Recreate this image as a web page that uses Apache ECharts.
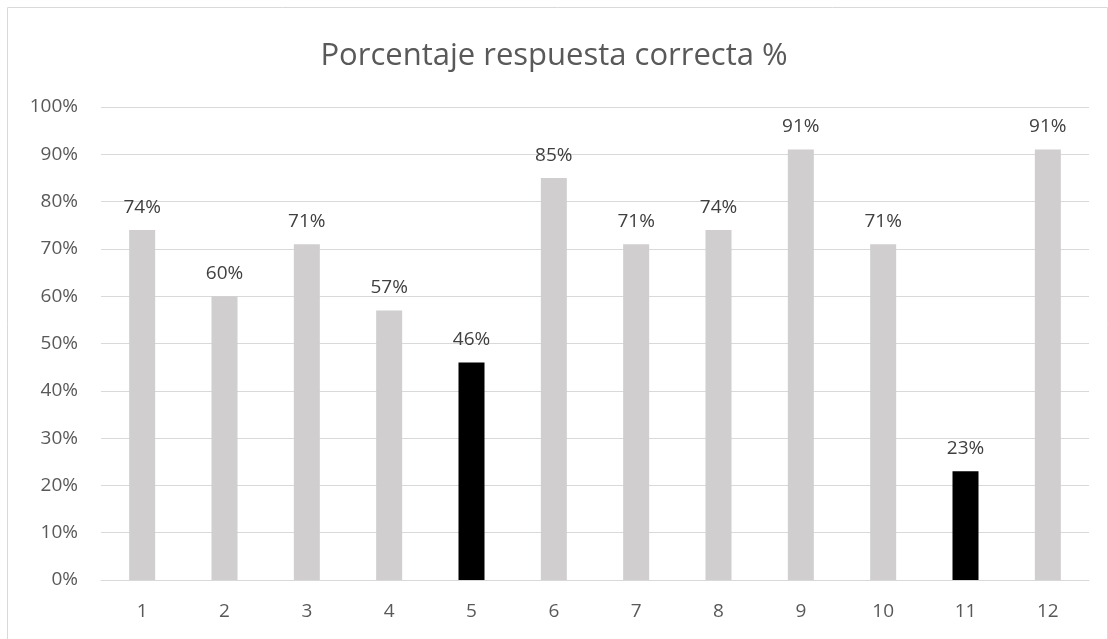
<!DOCTYPE html>
<html>
<head>
<meta charset="utf-8">
<script src="https://cdn.jsdelivr.net/npm/echarts@6/dist/echarts.min.js"></script>
<style>
  html, body { margin: 0; padding: 0; background: #fff; }
  #chart { width: 1108px; height: 639px; }
</style>
</head>
<body>
<div id="chart"></div>
<script>
// categories and values (percent)
var categories = ["1", "2", "3", "4", "5", "6", "7", "8", "9", "10", "11", "12"];
var values = [74, 60, 71, 57, 46, 85, 71, 74, 91, 71, 23, 91];
// questions shown in black
var highlighted = ["5", "11"];

var chart = echarts.init(document.getElementById("chart"));

var option = {
  animation: false,
  textStyle: { fontFamily: "Open Sans, Noto Sans, sans-serif" },
  graphic: [
    {
      type: "rect",
      shape: { x: 7.5, y: 7.5, width: 1100, height: 650 },
      style: { fill: "none", stroke: "#d9d9d9", lineWidth: 1 },
      silent: true
    }
  ],
  title: {
    text: "Porcentaje respuesta correcta %",
    left: "center",
    top: 36,
    textStyle: { fontSize: 31, fontWeight: "normal", color: "#595959" }
  },
  grid: { left: 101, right: 19, top: 107, bottom: 59 },
  xAxis: {
    type: "category",
    data: categories,
    axisLine: { lineStyle: { color: "#d9d9d9" } },
    axisTick: { show: false },
    axisLabel: { color: "#595959", fontSize: 19, margin: 22 }
  },
  yAxis: {
    type: "value",
    min: 0,
    max: 100,
    interval: 10,
    axisLine: { show: false },
    axisTick: { show: false },
    splitLine: { lineStyle: { color: "#d9d9d9", width: 1 } },
    axisLabel: {
      color: "#595959",
      fontSize: 19,
      margin: 23,
      formatter: function (v) { return v + "%"; }
    }
  },
  series: [
    {
      type: "bar",
      barWidth: 26,
      data: values.map(function (v, i) {
        return {
          value: v,
          itemStyle: { color: highlighted.indexOf(categories[i]) >= 0 ? "#000000" : "#d0cece" }
        };
      }),
      label: {
        show: true,
        position: "top",
        distance: 13,
        color: "#404040",
        fontSize: 19,
        formatter: function (p) { return p.value + "%"; }
      }
    }
  ]
};

chart.setOption(option);
</script>
</body>
</html>
